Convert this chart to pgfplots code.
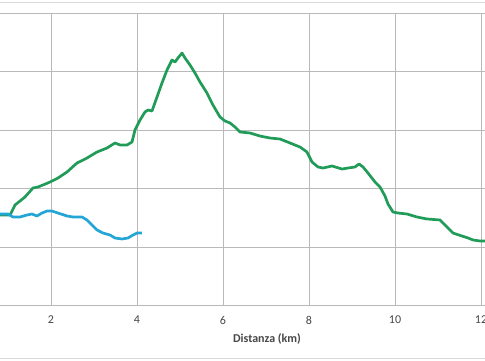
\documentclass[border=0pt]{standalone}
\usepackage{pgfplots}
\pgfplotsset{compat=1.18}
\usepackage{fontspec}
\setmainfont{Carlito}
\definecolor{lgreen}{RGB}{32,155,88}
\definecolor{lblue}{RGB}{35,166,214}
\definecolor{gridc}{RGB}{185,185,185}
\definecolor{txtc}{RGB}{70,70,70}
\begin{document}
\begin{tikzpicture}[x=1pt,y=1pt]
\path[use as bounding box] (0,0) rectangle (485,360);
\draw[color={rgb,255:red,217;green,217;blue,217}, line width=0.8pt] (0,357.5) -- (485,357.5);
\draw[color={rgb,255:red,217;green,217;blue,217}, line width=0.8pt] (0,2) -- (485,2);
\begin{axis}[
  at={(0pt,54.5pt)}, anchor=south west,
  scale only axis, width=485pt, height=292.5pt,
  xmin=0.814, xmax=12.093, ymin=0, ymax=500,
  xtick={2,4,...,12}, ytick={0,100,...,500}, yticklabels={},
  axis line style={draw=none}, tick style={draw=none},
  grid=major, grid style={gridc, line width=0.9pt},
  font=\fontsize{12}{14}\selectfont,
  tick label style={txtc},
  /pgf/number format/assume math mode=true,
  xticklabel style={yshift=-7pt},
  xlabel={\textbf{Distanza (km)}},
  xlabel style={at={(axis description cs:0.5505,0)}, anchor=center, yshift=-33.5pt, txtc},
  clip=true,
]
\addplot[lgreen, line width=2.7pt, line join=round] coordinates {
(0.70,154.7)(0.814,154.7)(1.047,154.7)(1.163,171.8)(1.395,185.5)(1.581,200.9)(1.698,202.6)(1.814,206.0)
(1.977,211.1)(2.163,217.9)(2.372,228.2)(2.605,243.6)(2.837,252.1)(3.070,262.4)(3.302,269.2)
(3.488,277.8)(3.605,274.4)(3.767,274.4)(3.884,279.5)(3.953,300.0)(4.070,317.1)(4.186,330.8)
(4.256,334.2)(4.349,332.5)(4.465,356.4)(4.581,380.3)(4.698,402.6)(4.814,419.7)(4.884,416.2)
(4.953,423.1)(5.047,431.6)(5.116,423.1)(5.233,411.1)(5.349,397.4)(5.465,382.1)(5.628,363.2)
(5.767,342.7)(5.930,322.2)(6.047,315.4)(6.163,312.0)(6.279,305.1)(6.395,296.6)(6.628,294.9)
(6.860,289.7)(7.093,286.3)(7.326,284.6)(7.558,277.8)(7.791,270.9)(7.953,262.4)(8.070,245.3)
(8.209,236.8)(8.326,235.0)(8.535,238.5)(8.767,233.3)(8.907,235.0)(9.070,236.8)(9.163,241.9)
(9.256,236.8)(9.372,226.5)(9.535,211.1)(9.651,202.6)(9.767,187.2)(9.837,173.5)(9.953,159.8)
(10.070,158.1)(10.279,156.4)(10.512,151.3)(10.744,147.9)(11.047,146.2)(11.209,134.2)
(11.349,123.9)(11.558,118.8)(11.698,115.4)(11.814,112.0)(11.977,110.3)(12.2,110.3)
};
\addplot[lblue, line width=2.7pt, line join=round] coordinates {
(0.70,156.4)(0.814,156.4)(1.0,156.4)(1.116,151.3)(1.279,151.3)(1.442,154.7)(1.558,156.4)
(1.674,153.0)(1.791,158.1)(1.907,161.5)(2.023,161.5)(2.163,158.1)(2.372,153.0)(2.512,151.3)
(2.721,151.3)(2.837,146.2)(2.953,137.6)(3.070,129.1)(3.209,123.9)(3.372,120.5)(3.488,115.4)
(3.651,113.7)(3.791,115.4)(3.907,120.5)(4.0,123.9)(4.116,123.9)
};
\end{axis}
\end{tikzpicture}
\end{document}
